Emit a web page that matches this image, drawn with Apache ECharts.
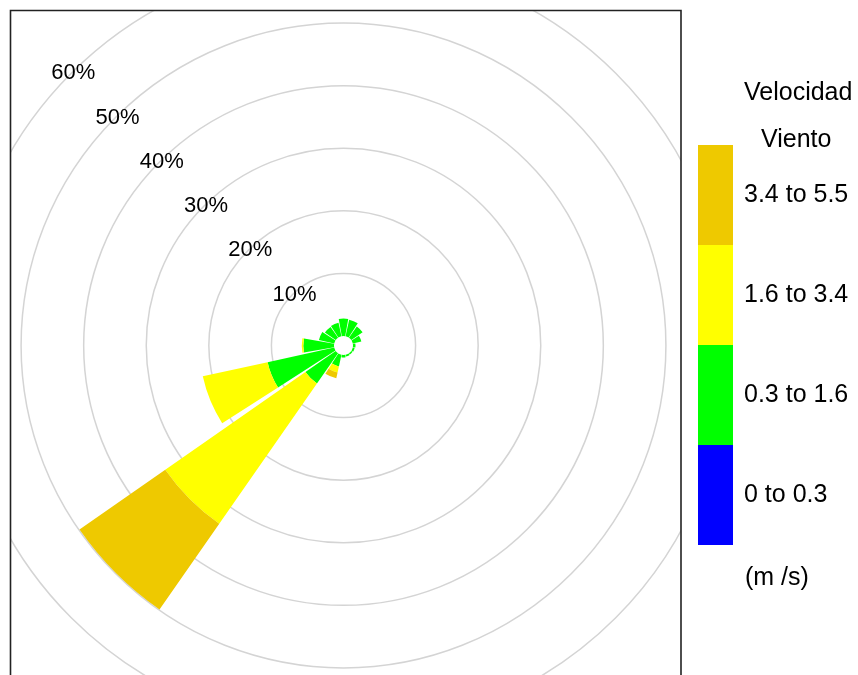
<!DOCTYPE html>
<html>
<head>
<meta charset="utf-8">
<script src="https://cdn.jsdelivr.net/npm/echarts@6/dist/echarts.min.js"></script>
<style>
  html, body { margin: 0; padding: 0; background: #ffffff; }
  #main { width: 858px; height: 675px; }
</style>
</head>
<body>
<div id="main"></div>
<script>
// Wind direction sectors, clockwise from north
const directions = ['N', 'NNE', 'NE', 'ENE', 'E', 'ESE', 'SE', 'SSE', 'S', 'SSW', 'SW', 'WSW', 'W', 'WNW', 'NW', 'NNW'];

// Wind speed classes (m/s) and their colours
const speedBins = ['0 to 0.3', '0.3 to 1.6', '1.6 to 3.4', '3.4 to 5.5'];
const binColors = ['#0000FF', '#00FF00', '#FFFF00', '#EEC900'];

// Frequency (%) of each speed class per direction
const freqCalm = [0, 0, 0, 0, 0, 0, 0, 0, 0, 0, 0, 0, 0, 0, 0, 0];
const freqLow  = [2.8, 2.7, 2.2, 1.4, 0.4, 0.3, 0.25, 0.3, 0.4, 1.9, 5.9, 10.9, 4.9, 2.5, 2.1, 2.2];
const freqMid  = [0, 0, 0, 0, 0, 0, 0, 0, 0, 1.0, 27.3, 10.6, 0.25, 0, 0, 0];
const freqHigh = [0, 0, 0, 0, 0, 0, 0, 0, 0, 0.95, 16.7, 0, 0, 0, 0, 0];

// Frequency rings
const ringTicks = [10, 20, 30, 40, 50, 60];

const center = [343.5, 345.5];
const radii = [9.5, 385];

// Bars start at NW and run clockwise so every sector is centred on its bearing
const startIdx = directions.indexOf('NW');
const rotate = arr => arr.slice(startIdx).concat(arr.slice(0, startIdx));

const seriesValues = [freqCalm, freqLow, freqMid, freqHigh];

const chart = echarts.init(document.getElementById('main'), null, { renderer: 'canvas' });

const ringColors = ['rgba(0,0,0,0)'].concat(ringTicks.map(() => '#d4d4d4'));
const ringMax = ringTicks[ringTicks.length - 1];

const option = {
  backgroundColor: '#ffffff',
  animation: false,
  polar: [
    { center: center, radius: radii },   // sectors
    { center: center, radius: radii }    // full rings and % labels
  ],
  angleAxis: [
    {
      polarIndex: 0,
      type: 'category',
      data: rotate(directions),
      startAngle: 135,
      clockwise: true,
      boundaryGap: false,
      axisLine: { show: false },
      axisTick: { show: false },
      axisLabel: { show: false },
      splitLine: { show: false }
    },
    {
      polarIndex: 1,
      type: 'value',
      min: 0,
      max: 360,
      startAngle: 135,
      clockwise: true,
      axisLine: { show: false },
      axisTick: { show: false },
      axisLabel: { show: false },
      splitLine: { show: false }
    }
  ],
  radiusAxis: [
    {
      polarIndex: 0,
      type: 'value',
      min: 0,
      max: ringMax,
      axisLine: { show: false },
      axisTick: { show: false },
      axisLabel: { show: false },
      splitLine: { show: false }
    },
    {
      polarIndex: 1,
      type: 'value',
      min: 0,
      max: ringMax,
      interval: ringTicks[1] - ringTicks[0],
      axisLine: { show: false },
      axisTick: { show: false },
      axisLabel: {
        formatter: '{value}%',
        showMinLabel: false,
        margin: 0,
        align: 'center',
        verticalAlign: 'middle',
        padding: [8, 0, 0, 4],
        fontSize: 22,
        fontFamily: 'Liberation Sans',
        color: '#000000'
      },
      splitLine: {
        show: true,
        lineStyle: { color: ringColors, width: 1.5 }
      }
    }
  ],
  legend: {
    orient: 'vertical',
    left: 698,
    top: 145,
    padding: 0,
    itemWidth: 35,
    itemHeight: 100,
    itemGap: 0,
    icon: 'rect',
    selectedMode: false,
    data: speedBins.slice().reverse(),
    textStyle: {
      fontSize: 25,
      fontFamily: 'Liberation Sans',
      color: '#000000',
      padding: [0, 0, 0, 6]
    }
  },
  series: speedBins.map((name, i) => ({
    name: name,
    type: 'bar',
    coordinateSystem: 'polar',
    polarIndex: 0,
    stack: 'rose',
    barWidth: '90%',
    itemStyle: { color: binColors[i] },
    emphasis: { disabled: true },
    data: rotate(seriesValues[i])
  })),
  graphic: {
    elements: [
      // white margins outside the plotting panel
      { type: 'rect', z: 3, shape: { x: 0, y: 0, width: 858, height: 10 }, style: { fill: '#ffffff' } },
      { type: 'rect', z: 3, shape: { x: 0, y: 0, width: 10, height: 675 }, style: { fill: '#ffffff' } },
      { type: 'rect', z: 3, shape: { x: 681, y: 0, width: 177, height: 675 }, style: { fill: '#ffffff' } },
      // panel frame
      { type: 'rect', z: 3, shape: { x: 10.5, y: 10.5, width: 670.5, height: 700 },
        style: { fill: 'none', stroke: '#222222', lineWidth: 1.6 } },
      // legend titles
      { type: 'text', z: 3, style: { text: 'Velocidad', x: 744, y: 93, fontSize: 25, fontFamily: 'Liberation Sans', fill: '#000000', verticalAlign: 'middle' } },
      { type: 'text', z: 3, style: { text: 'Viento', x: 761, y: 140, fontSize: 25, fontFamily: 'Liberation Sans', fill: '#000000', verticalAlign: 'middle' } },
      { type: 'text', z: 3, style: { text: '(m /s)', x: 745, y: 578, fontSize: 25, fontFamily: 'Liberation Sans', fill: '#000000', verticalAlign: 'middle' } }
    ]
  }
};

chart.setOption(option);
</script>
</body>
</html>
